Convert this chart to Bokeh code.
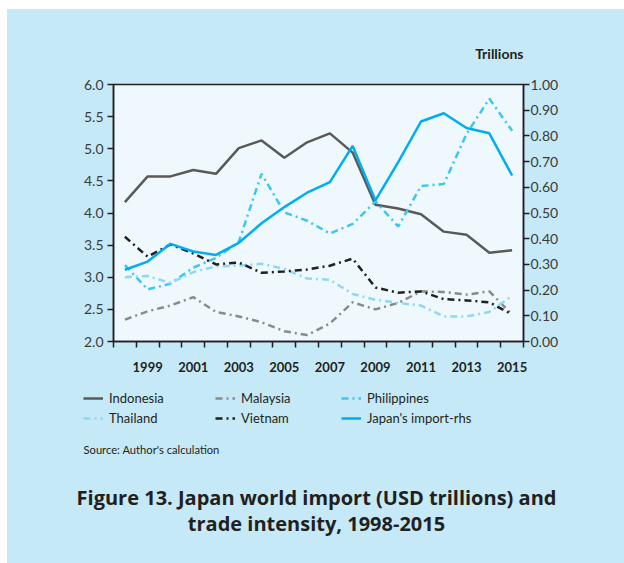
from bokeh.plotting import figure
from bokeh.models import (Range1d, LinearAxis, FixedTicker, NumeralTickFormatter,
                          Legend, LegendItem, Label)
from bokeh.layouts import column
from bokeh.embed import file_html
from bokeh.resources import INLINE

years = list(range(1998, 2016))
tick_years = [1999, 2001, 2003, 2005, 2007, 2009, 2011, 2013, 2015]
tick_labels = {y: str(y) for y in tick_years}

indonesia = [4.17, 4.57, 4.57, 4.67, 4.61, 5.01, 5.13, 4.86, 5.10, 5.24, 4.94,
             4.13, 4.07, 3.98, 3.71, 3.66, 3.38, 3.42]
malaysia = [2.34, 2.47, 2.56, 2.69, 2.46, 2.39, 2.30, 2.16, 2.10, 2.28, 2.61,
            2.50, 2.60, 2.78, 2.77, 2.73, 2.78, 2.42]
philippines = [3.19, 2.81, 2.90, 3.15, 3.30, 3.55, 4.61, 4.01, 3.88, 3.68, 3.83,
               4.18, 3.79, 4.42, 4.45, 5.23, 5.78, 5.28]
thailand = [3.00, 3.02, 2.91, 3.08, 3.17, 3.18, 3.21, 3.13, 2.98, 2.96, 2.74,
            2.65, 2.60, 2.56, 2.39, 2.39, 2.46, 2.71]
vietnam = [3.63, 3.32, 3.51, 3.37, 3.20, 3.23, 3.07, 3.09, 3.12, 3.18, 3.29,
           2.84, 2.76, 2.78, 2.66, 2.64, 2.61, 2.42]
japan_import = [0.279, 0.311, 0.380, 0.350, 0.337, 0.384, 0.460, 0.523, 0.579,
                0.620, 0.761, 0.549, 0.698, 0.856, 0.888, 0.831, 0.810, 0.646]

series = [
    ("Indonesia", indonesia, "#595959", "solid", None),
    ("Malaysia", malaysia, "#8a8a8a", "7 4 2 4", None),
    ("Philippines", philippines, "#3cc6f0", "7 4 2 4", None),
    ("Thailand", thailand, "#8fd8f5", "7 4 2 4", None),
    ("Vietnam", vietnam, "#231f20", "7 4 2 4", None),
    ("Japan's import-rhs", japan_import, "#00aeef", "solid", "rhs"),
]

DARK = "#231f20"
FONT = "Lato"
TFONT = "Open Sans"
BG = "#c6e9f8"
W = 617
H1 = 376
H2 = 178

p = figure(width=W, height=H1, output_backend="svg", toolbar_location=None,
           x_range=Range1d(1997.5, 2015.5), y_range=Range1d(2.0, 6.0),
           min_border_left=106, min_border_right=101, min_border_top=75,
           min_border_bottom=H1 - 75 - 257)
p.frame_align = False
p.border_fill_color = BG
p.background_fill_color = "#eef8fd"
p.outline_line_color = DARK
p.outline_line_width = 1.5
p.grid.visible = False

p.title.text = "Trillions"
p.title.align = "right"
p.title.text_font = FONT
p.title.text_font_style = "bold"
p.title.text_font_size = "14px"
p.title.text_color = DARK
p.title.standoff = 45

p.extra_y_ranges = {"rhs": Range1d(0.0, 1.0)}

xa = p.xaxis[0]
xa.ticker = FixedTicker(ticks=tick_years,
                        minor_ticks=[y - 0.5 for y in years] + [years[-1] + 0.5])
xa.major_label_overrides = tick_labels
xa.major_tick_line_color = None
xa.minor_tick_line_color = DARK
xa.minor_tick_line_width = 1.5
xa.minor_tick_out = 6
xa.minor_tick_in = 0
xa.major_label_standoff = 14
xa.major_label_text_font = FONT
xa.major_label_text_font_style = "bold"
xa.major_label_text_font_size = "13px"
xa.major_label_text_color = DARK
xa.axis_line_color = DARK
xa.axis_line_width = 1.5

ya = p.yaxis[0]
ya.ticker = FixedTicker(ticks=[2.0, 2.5, 3.0, 3.5, 4.0, 4.5, 5.0, 5.5, 6.0])
ya.formatter = NumeralTickFormatter(format="0.0")

ra = LinearAxis(y_range_name="rhs",
                ticker=FixedTicker(ticks=[i / 10 for i in range(11)]),
                formatter=NumeralTickFormatter(format="0.00"))
p.add_layout(ra, "right")

for ax in (ya, ra):
    ax.minor_tick_line_color = None
    ax.major_tick_out = 6
    ax.major_tick_in = 0
    ax.major_tick_line_width = 1.5
    ax.major_tick_line_color = DARK
    ax.axis_line_color = DARK
    ax.axis_line_width = 1.5
    ax.major_label_standoff = 4
    ax.major_label_text_font = FONT
    ax.major_label_text_font_size = "14px"
    ax.major_label_text_color = "#3a3a3a"
ra.major_label_standoff = 1

for name, vals, color, dash, rng in series:
    kw = {"y_range_name": rng} if rng else {}
    p.line(years, vals, line_color=color, line_width=2.5, line_dash=dash, **kw)

# lower panel: legend, source and caption (coordinates = pixels)
p2 = figure(width=W, height=H2, output_backend="svg", toolbar_location=None,
            x_range=Range1d(0, W), y_range=Range1d(0, H2),
            x_axis_location=None, y_axis_location=None, min_border=0,
            min_border_left=0, min_border_right=0, min_border_top=0,
            min_border_bottom=0)
p2.frame_align = False
p2.border_fill_color = BG
p2.background_fill_color = BG
p2.outline_line_color = None
p2.grid.visible = False

keys = {}
for name, vals, color, dash, rng in series:
    keys[name] = p2.line(years, vals, line_color=color, line_width=2.5,
                         line_dash=dash)

columns = [["Indonesia", "Thailand"], ["Malaysia", "Vietnam"],
           ["Philippines", "Japan's import-rhs"]]
col_x = [76, 208, 334]
for names, x in zip(columns, col_x):
    lg = Legend(items=[LegendItem(label=n, renderers=[keys[n]]) for n in names],
                location=(x, 137), orientation="vertical",
                background_fill_alpha=0, border_line_color=None,
                padding=0, margin=0, spacing=4, glyph_width=20, glyph_height=14,
                label_height=14, label_standoff=6, label_text_font=FONT,
                label_text_font_size="13px", label_text_color=DARK)
    p2.add_layout(lg, "center")

p2.add_layout(Label(x=76, y=114, text="Source: Author's calculation",
                    text_font=FONT, text_font_size="11.2px", text_color=DARK,
                    text_align="left", text_baseline="middle"))
p2.add_layout(Label(x=309, y=66,
                    text="Figure 13. Japan world import (USD trillions) and",
                    text_font=TFONT, text_font_style="bold", text_font_size="20px",
                    text_color=DARK, text_align="center", text_baseline="middle"))
p2.add_layout(Label(x=309, y=40, text="trade intensity, 1998-2015",
                    text_font=TFONT, text_font_style="bold", text_font_size="20px",
                    text_color=DARK, text_align="center", text_baseline="middle"))

layout = column(p, p2, spacing=0,
                styles={"margin-left": "7px", "margin-top": "9px",
                        "background-color": BG})
open("out.html", "w").write(file_html(layout, INLINE))
